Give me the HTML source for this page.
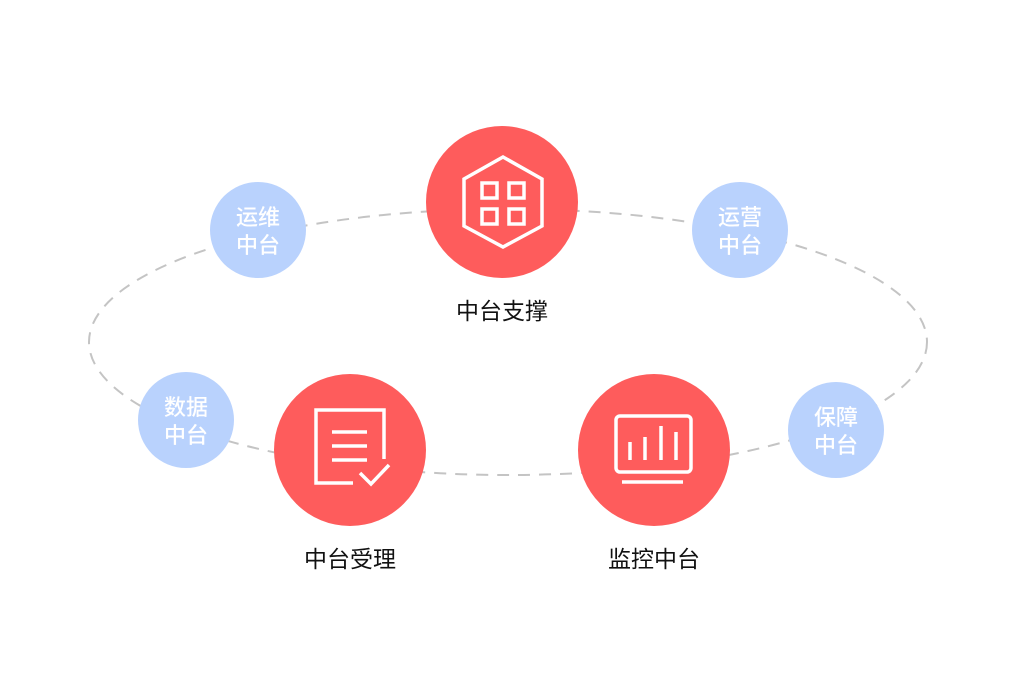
<!DOCTYPE html>
<html><head><meta charset="utf-8"><style>
html,body{margin:0;padding:0;background:#fff;}
svg{display:block;}
text{font-family:"Liberation Sans","Noto Sans CJK SC",sans-serif;}
</style></head><body>
<svg width="1016" height="696" viewBox="0 0 1016 696" xmlns="http://www.w3.org/2000/svg">
<ellipse cx="508" cy="342" rx="419" ry="133" fill="none" stroke="#c4c4c4" stroke-width="2" stroke-dasharray="12 9"/>
<g fill="#b9d2fd">
<circle cx="258" cy="230" r="48"/>
<circle cx="740" cy="230" r="48"/>
<circle cx="186" cy="420" r="48"/>
<circle cx="836" cy="430" r="48"/>
</g>
<g fill="#fff" font-size="22" text-anchor="middle" font-weight="500">
<text x="258" y="225">运维</text><text x="258" y="253">中台</text>
<text x="740" y="225">运营</text><text x="740" y="253">中台</text>
<text x="186" y="415">数据</text><text x="186" y="443">中台</text>
<text x="836" y="425">保障</text><text x="836" y="453">中台</text>
</g>
<g fill="#fe5c5c">
<circle cx="502" cy="202" r="76"/>
<circle cx="350" cy="450" r="76"/>
<circle cx="654" cy="450" r="76"/>
</g>
<g fill="none" stroke="#fff" stroke-width="3.5">
<polygon points="503,157 542,179 542,226 503,247 464,226 464,179"/>
<rect x="482" y="183" width="15" height="15"/>
<rect x="509" y="183" width="15" height="15"/>
<rect x="482" y="209" width="15" height="15"/>
<rect x="509" y="209" width="15" height="15"/>
<polyline points="384,459 384,410 316,410 316,483 353,483"/>
<line x1="332" y1="432" x2="367" y2="432"/>
<line x1="332" y1="446" x2="367" y2="446"/>
<line x1="332" y1="460" x2="367" y2="460"/>
<polyline points="360,473 371,484 389,465"/>
<rect x="616" y="416" width="75" height="56" rx="4"/>
<line x1="630" y1="442" x2="630" y2="460"/>
<line x1="645" y1="437" x2="645" y2="460"/>
<line x1="661" y1="426" x2="661" y2="460"/>
<line x1="676" y1="432" x2="676" y2="460"/>
<line x1="622" y1="482" x2="683" y2="482"/>
</g>
<g fill="#111" font-size="23" text-anchor="middle">
<text x="502" y="319">中台支撑</text>
<text x="350" y="567">中台受理</text>
<text x="654" y="567">监控中台</text>
</g>
</svg>
</body></html>
